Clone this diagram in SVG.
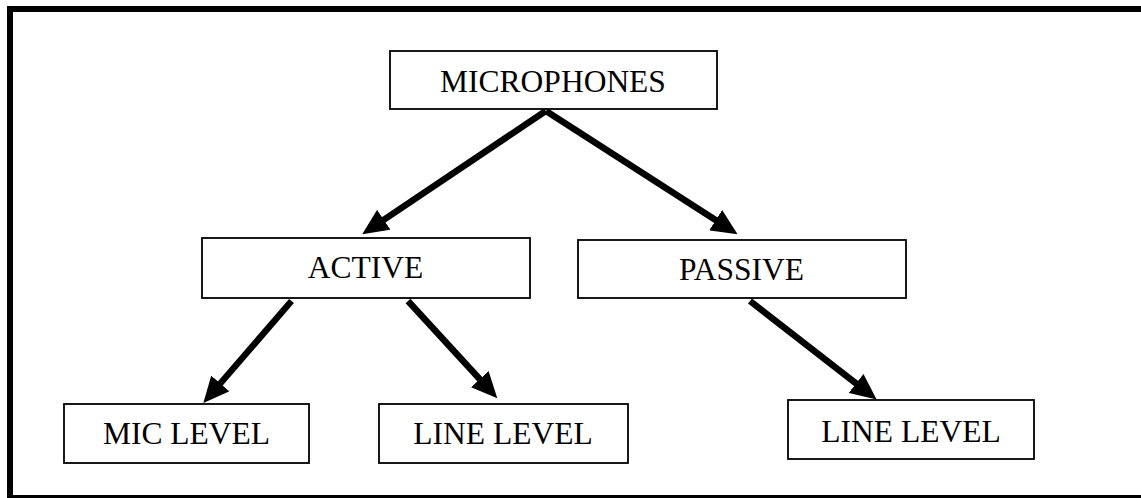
<svg xmlns="http://www.w3.org/2000/svg" width="1141" height="498" viewBox="0 0 1141 498">
<style>
.box{fill:#fff;stroke:#000;stroke-width:1.8}
.lbl{font-family:"Liberation Serif","Times New Roman",serif;font-size:31.5px;fill:#000;text-anchor:middle}
.conn{stroke:#000;stroke-width:6.5;fill:none;marker-end:url(#ah)}
</style>
<defs>
<marker id="ah" markerUnits="userSpaceOnUse" markerWidth="26" markerHeight="24" refX="10" refY="12" orient="auto" viewBox="0 0 26 24">
<path d="M0,0 L26,12 L0,24 z" fill="#000"/>
</marker>
</defs>
<rect x="0" y="0" width="1141" height="498" fill="#fff"/>
<rect x="10" y="9" width="1140" height="489" fill="none" stroke="#000" stroke-width="6"/>
<g id="connectors">
<line class="conn" x1="545.7" y1="111" x2="375.5" y2="225.4"/>
<line class="conn" x1="546" y1="111" x2="724.1" y2="225.6"/>
<line class="conn" x1="291.5" y1="301" x2="213.8" y2="391"/>
<line class="conn" x1="408" y1="301" x2="486.5" y2="386.5"/>
<line class="conn" x1="750" y1="301" x2="864" y2="389.6"/>
</g>
<g id="microphones">
<rect class="box" x="390" y="51" width="327" height="58"/>
<text class="lbl" x="553" y="91.5">MICROPHONES</text>
</g>
<g id="active">
<rect class="box" x="202" y="238" width="328" height="60"/>
<text class="lbl" x="365.5" y="277.5">ACTIVE</text>
</g>
<g id="passive">
<rect class="box" x="578" y="240" width="328" height="58"/>
<text class="lbl" x="741.5" y="280">PASSIVE</text>
</g>
<g id="mic-level">
<rect class="box" x="64" y="404" width="245" height="59"/>
<text class="lbl" x="186.5" y="444">MIC LEVEL</text>
</g>
<g id="line-level-active">
<rect class="box" x="379" y="404" width="249" height="59"/>
<text class="lbl" x="503" y="444">LINE LEVEL</text>
</g>
<g id="line-level-passive">
<rect class="box" x="788" y="400" width="246" height="59"/>
<text class="lbl" x="911" y="441.5">LINE LEVEL</text>
</g>
</svg>
